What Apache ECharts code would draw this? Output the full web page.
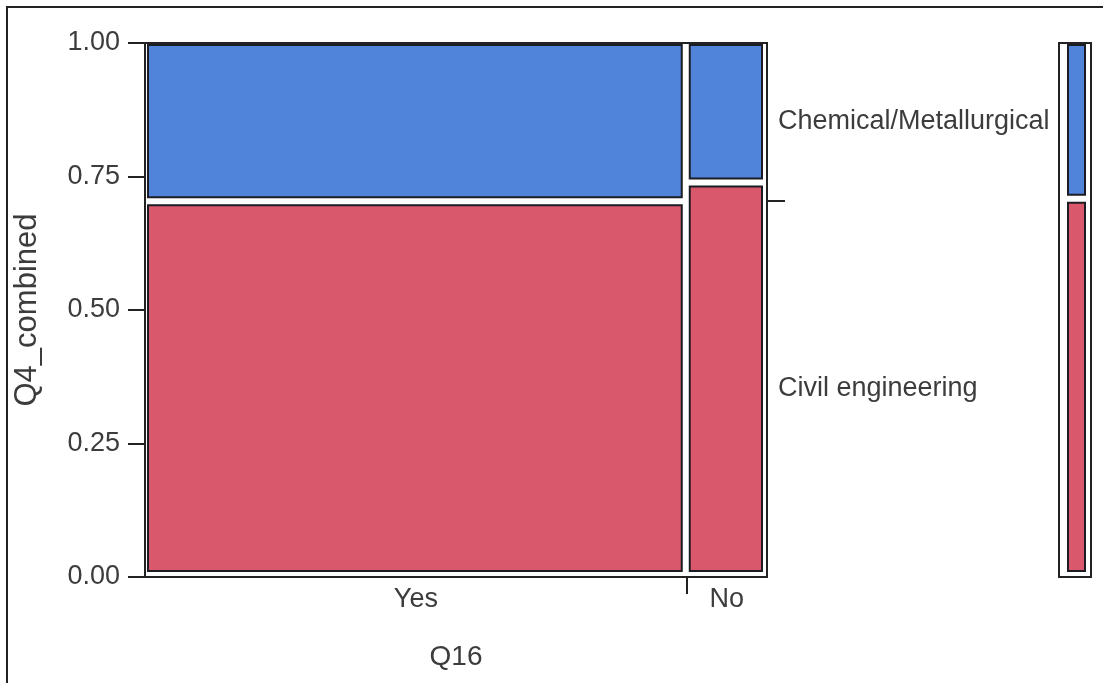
<!DOCTYPE html>
<html>
<head>
<meta charset="utf-8">
<script src="https://cdn.jsdelivr.net/npm/echarts@6/dist/echarts.min.js"></script>
<style>
html, body { margin: 0; padding: 0; background: #fff; }
#main { width: 1103px; height: 683px; }
</style>
</head>
<body>
<div id="main"></div>
<script>
// Q16 levels and the share of respondents in each
const q16Levels = ['Yes', 'No'];
const q16Share = [0.871, 0.129];
// Q4_combined levels (bottom to top) and civil share inside each Q16 column
const q4Levels = ['Civil engineering', 'Chemical/Metallurgical'];
const civilShare = [0.700, 0.735];
const yTicks = [0, 0.25, 0.5, 0.75, 1];

const colors = ['#d9586b', '#5083da'];
const font = '"Liberation Sans", Arial, sans-serif';

// build mosaic tiles from the shares
let tiles = [];
let xBounds = [];
let xMids = [];
let x0 = 0;
q16Levels.forEach(function (name, i) {
    let x1 = x0 + q16Share[i];
    tiles.push([x0, x1, 0, civilShare[i], 0]);
    tiles.push([x0, x1, civilShare[i], 1, 1]);
    xMids.push((x0 + x1) / 2);
    if (i < q16Levels.length - 1) xBounds.push(x1);
    x0 = x1;
});
let overall = 0;
q16Levels.forEach(function (n, i) { overall += q16Share[i] * civilShare[i]; });
let barTiles = [[0, 1, 0, overall, 0], [0, 1, overall, 1, 1]];
let yMids = [overall / 2, (overall + 1) / 2];

function makeRender(ins) {
    return function (params, api) {
        let tl = api.coord([api.value(0), api.value(3)]);
        let br = api.coord([api.value(1), api.value(2)]);
        return {
            type: 'rect',
            shape: {
                x: tl[0] + ins[0],
                y: tl[1] + ins[2],
                width: br[0] - tl[0] - ins[0] - ins[1],
                height: br[1] - tl[1] - ins[2] - ins[3]
            },
            style: { fill: colors[api.value(4)], stroke: '#1c1c24', lineWidth: 2 }
        };
    };
}

let myChart = echarts.init(document.getElementById('main'));

myChart.setOption({
    animation: false,
    graphic: [{
        type: 'rect',
        shape: { x: 7, y: 7, width: 1200, height: 1000 },
        style: { fill: 'none', stroke: '#222', lineWidth: 2 }
    }],
    grid: [
        { left: 145, top: 43, width: 622, height: 534, show: true, borderColor: '#222', borderWidth: 2 },
        { left: 1059, top: 43, width: 32, height: 534, show: true, borderColor: '#222', borderWidth: 2 }
    ],
    xAxis: [{
        type: 'value',
        min: 0,
        max: 1,
        gridIndex: 0,
        splitLine: { show: false },
        axisLine: { lineStyle: { color: '#222', width: 2 } },
        axisTick: { length: 17, customValues: xBounds, lineStyle: { color: '#222', width: 2 } },
        axisLabel: {
            customValues: xMids,
            margin: 9,
            fontFamily: font,
            fontSize: 27,
            color: '#3c3c3c',
            formatter: function (v) {
                let i = xMids.findIndex(function (m) { return Math.abs(m - v) < 1e-6; });
                return i >= 0 ? q16Levels[i] : '';
            }
        },
        name: 'Q16',
        nameLocation: 'middle',
        nameGap: 66,
        nameTextStyle: { fontFamily: font, fontSize: 28, color: '#3c3c3c' }
    }, {
        type: 'value', min: 0, max: 1, gridIndex: 1, show: false
    }],
    yAxis: [{
        type: 'value',
        min: 0,
        max: 1,
        interval: 0.25,
        gridIndex: 0,
        splitLine: { show: false },
        axisLine: { show: true, lineStyle: { color: '#222', width: 2 } },
        axisTick: { show: true, length: 17, lineStyle: { color: '#222', width: 2 } },
        axisLabel: {
            margin: 25,
            fontFamily: font,
            fontSize: 27,
            color: '#3c3c3c',
            formatter: function (v) { return v.toFixed(2); }
        },
        name: 'Q4_combined',
        nameLocation: 'middle',
        nameGap: 102,
        nameTextStyle: { fontFamily: font, fontSize: 31, color: '#3c3c3c' }
    }, {
        type: 'value',
        min: 0,
        max: 1,
        gridIndex: 0,
        position: 'right',
        splitLine: { show: false },
        axisLine: { show: false },
        axisTick: { show: true, length: 18, customValues: [overall], lineStyle: { color: '#222', width: 2 } },
        axisLabel: {
            customValues: yMids,
            margin: 11,
            fontFamily: font,
            fontSize: 27,
            color: '#3c3c3c',
            formatter: function (v) {
                let i = yMids.findIndex(function (m) { return Math.abs(m - v) < 1e-6; });
                return i >= 0 ? q4Levels[i] : '';
            }
        }
    }, {
        type: 'value', min: 0, max: 1, gridIndex: 1, show: false
    }],
    series: [{
        type: 'custom',
        xAxisIndex: 0,
        yAxisIndex: 0,
        renderItem: makeRender([3, 5, 2, 6]),
        data: tiles
    }, {
        type: 'custom',
        xAxisIndex: 1,
        yAxisIndex: 2,
        renderItem: makeRender([9, 6, 2, 6]),
        data: barTiles
    }]
});
window.addEventListener('resize', function () {
    myChart.resize();
});
</script>
</body>
</html>
